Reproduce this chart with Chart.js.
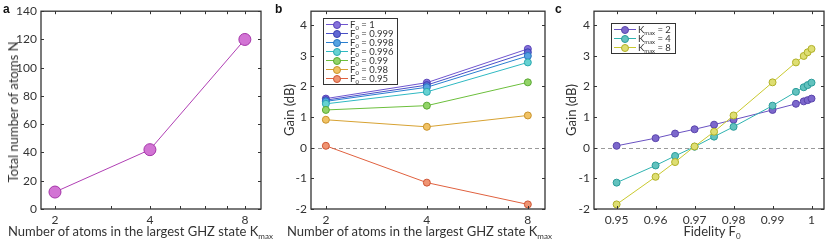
<!DOCTYPE html>
<html><head><meta charset="utf-8">
<script src="https://cdn.jsdelivr.net/npm/chart.js@4.4.1/dist/chart.umd.min.js"></script>
<style>
body{margin:0;background:#fff;width:831px;height:243px;overflow:hidden;position:relative;font-family:Lato,'Open Sans',sans-serif;color:#333;}
.panel{position:absolute;top:0;}
canvas{display:block}
.lbl{position:absolute;font:bold 12px 'Liberation Sans',Arial,sans-serif;color:#111;line-height:12px}
.xt{position:absolute;font-size:13px;line-height:16px;white-space:nowrap;}
.yt{position:absolute;font-size:13px;line-height:16px;white-space:nowrap;transform:translate(-50%,-50%) rotate(-90deg);}
sub{font-size:62%;vertical-align:-0.4em;line-height:0}
.legend{position:absolute;border:1px solid #333;background:#fff;padding:1px 4px 1px 2px;font-size:9.5px;line-height:9px}
.row{display:flex;align-items:center;height:9px;white-space:nowrap}
.sw{position:relative;width:22px;height:9px;margin-right:2px;flex:none}
.sw .ln{position:absolute;left:0;right:0;top:4px;height:0;border-top:1px solid}
.sw .dot{position:absolute;left:7px;top:1px;width:6px;height:6px;border-radius:50%;border:1px solid;box-sizing:content-box}
</style></head>
<body>
<div class="panel" style="left:0"><canvas id="ca" width="275" height="243"></canvas></div>
<div class="panel" style="left:278px"><canvas id="cb" width="275" height="243"></canvas></div>
<div class="panel" style="left:555px"><canvas id="cc" width="276" height="243"></canvas></div>

<div class="lbl" style="left:3px;top:3px">a</div>
<div class="lbl" style="left:275px;top:3px">b</div>
<div class="lbl" style="left:555px;top:3px">c</div>

<div class="yt" style="left:13px;top:112px">Total number of atoms N</div>
<div class="xt" style="left:8px;top:223px">Number of atoms in the largest GHZ state K<sub>max</sub></div>
<div class="yt" style="left:289px;top:110px">Gain (dB)</div>
<div class="xt" style="left:287px;top:223px">Number of atoms in the largest GHZ state K<sub>max</sub></div>
<div class="yt" style="left:571px;top:110px">Gain (dB)</div>
<div class="xt" style="left:712px;top:223px;transform:translateX(-50%)">Fidelity F<sub>0</sub></div>

<div class="legend" id="legb" style="left:323px;top:18px"></div>
<div class="legend" id="legc" style="left:611px;top:23px"></div>

<script>
// ---- data ----
const kmax = [2, 4, 8];
const kmaxTickValues = [2, 3, 4, 5, 6, 7, 8];
const kmaxTickLabels = ['2', '', '4', '', '', '', '8'];
const totalAtoms = [12, 42, 120];
const atomTicks = [0, 20, 40, 60, 80, 100, 120, 140];

const fidelityC = [0.95, 0.96, 0.965, 0.97, 0.975, 0.98, 0.99, 0.996, 0.998, 0.999, 1];
const gainK2 = [0.06, 0.31, 0.46, 0.60, 0.75, 0.91, 1.23, 1.43, 1.51, 1.55, 1.60];
const gainK4 = [-1.14, -0.58, -0.27, 0.03, 0.36, 0.68, 1.37, 1.82, 1.97, 2.04, 2.12];
const gainK8 = [-1.85, -0.95, -0.47, 0.04, 0.52, 1.05, 2.13, 2.78, 2.99, 3.11, 3.22];
const fidelityTickValues = [0.95, 0.96, 0.97, 0.98, 0.99, 1];
const fidelityTickLabels = ['0.95', '0.96', '0.97', '0.98', '0.99', '1'];
const gainTicks = [-2, -1, 0, 1, 2, 3, 4];

const fidelitiesB = [1, 0.999, 0.998, 0.996, 0.99, 0.98, 0.95];
const fidelityLabelsB = ['1', '0.999', '0.998', '0.996', '0.99', '0.98', '0.95'];

// ---- styles ----
const colorsB = [
  {line:'#6f55cf', fill:'#8672dc', edge:'#5a44b8'},
  {line:'#4a50c8', fill:'#6068d4', edge:'#3a40b0'},
  {line:'#2a7fd0', fill:'#55a3e2', edge:'#2a75c0'},
  {line:'#2fb9c2', fill:'#66d2d2', edge:'#2aa8b0'},
  {line:'#6cbf3c', fill:'#92d467', edge:'#5aa832'},
  {line:'#d7a232', fill:'#f1c264', edge:'#c8922a'},
  {line:'#e0613f', fill:'#ef9472', edge:'#cf5535'}
];
const colorsC = [
  {line:'#6a52c2', fill:'#7c68cc', edge:'#5a44ac'},
  {line:'#2fb3b0', fill:'#62c2be', edge:'#2a9c9a'},
  {line:'#c9c92e', fill:'#dede72', edge:'#b0b028'}
];
const FONT = "Lato, 'Open Sans', sans-serif";
const TXT = '#333';

const boxPlugin = {
  id: 'box',
  beforeDatasetsDraw(chart, args, opts) {
    if (!opts.zero) return;
    const {ctx, chartArea: a, scales: {y}} = chart;
    const py = Math.round(y.getPixelForValue(0)) + 0.5;
    ctx.save();
    ctx.strokeStyle = '#9a9a9a'; ctx.lineWidth = 1; ctx.setLineDash([4, 3]);
    ctx.beginPath(); ctx.moveTo(a.left, py); ctx.lineTo(a.right, py); ctx.stroke();
    ctx.restore();
  },
  afterDraw(chart) {
    const {ctx, chartArea: a, scales: {x, y}} = chart;
    ctx.save();
    ctx.strokeStyle = '#333'; ctx.lineWidth = 1.3;
    ctx.strokeRect(a.left, a.top, a.right - a.left, a.bottom - a.top);
    ctx.lineWidth = 1;
    ctx.beginPath();
    x.ticks.forEach(t => {
      const px = Math.round(x.getPixelForValue(t.value)) + 0.5;
      ctx.moveTo(px, a.bottom); ctx.lineTo(px, a.bottom - 3);
      ctx.moveTo(px, a.top); ctx.lineTo(px, a.top + 3);
    });
    y.ticks.forEach(t => {
      const py = Math.round(y.getPixelForValue(t.value)) + 0.5;
      ctx.moveTo(a.left, py); ctx.lineTo(a.left + 3, py);
      ctx.moveTo(a.right, py); ctx.lineTo(a.right - 3, py);
    });
    ctx.stroke();
    ctx.restore();
  }
};

function makeOpts(o) {
  return {
    responsive: false, animation: false, devicePixelRatio: 1,
    layout: {padding: {top: 11, right: o.padR, left: 0, bottom: 0}},
    plugins: {legend: {display: false}, tooltip: {enabled: false}, box: {zero: o.zero}},
    scales: {
      x: {
        type: o.xType, min: o.xMin, max: o.xMax,
        grid: {display: false, drawTicks: false}, border: {display: false},
        afterBuildTicks: s => { s.ticks = o.xTicks.map(v => ({value: v})); },
        afterFit: s => { s.height = o.xH; },
        ticks: {
          autoSkip: false, maxRotation: 0, padding: 4, color: TXT,
          font: {family: FONT, size: 12},
          callback: (v) => { const i = o.xTicks.indexOf(v); return i >= 0 ? o.xLabels[i] : ''; }
        }
      },
      y: {
        type: 'linear', min: o.yMin, max: o.yMax,
        grid: {display: false, drawTicks: false}, border: {display: false},
        afterBuildTicks: s => { s.ticks = o.yTicks.map(v => ({value: v})); },
        afterFit: s => { s.width = o.yW; },
        ticks: {
          autoSkip: false, padding: 4, color: TXT,
          font: {family: FONT, size: 12},
          callback: v => String(v)
        }
      }
    }
  };
}

// Panel a
new Chart(document.getElementById('ca'), {
  type: 'line',
  data: {datasets: [{
    data: kmax.map((k, i) => ({x: k, y: totalAtoms[i]})),
    borderColor: '#b03fb4', borderWidth: 1,
    pointRadius: 6, pointBackgroundColor: '#d274d4', pointBorderColor: '#a434a8', pointBorderWidth: 1
  }]},
  options: makeOpts({xType: 'logarithmic', xMin: 1.806, xMax: 9, xTicks: kmaxTickValues, xLabels: kmaxTickLabels,
    yMin: 0, yMax: 140, yTicks: atomTicks, yW: 41, xH: 34, padR: 14, zero: false}),
  plugins: [boxPlugin]
});

// Panel b
const gainAt = (arr, f) => arr[fidelityC.indexOf(f)];
const dsB = fidelitiesB.map((f, i) => ({
  label: 'F0 = ' + fidelityLabelsB[i],
  data: kmax.map((k, j) => ({x: k, y: gainAt([gainK2, gainK4, gainK8][j], f)})),
  borderColor: colorsB[i].line, borderWidth: 1,
  pointRadius: 3.5, pointBackgroundColor: colorsB[i].fill, pointBorderColor: colorsB[i].edge, pointBorderWidth: 1
}));
new Chart(document.getElementById('cb'), {
  type: 'line',
  data: {datasets: dsB.slice().reverse()},
  options: makeOpts({xType: 'logarithmic', xMin: 1.806, xMax: 9, xTicks: kmaxTickValues, xLabels: kmaxTickLabels,
    yMin: -2, yMax: 4.45, yTicks: gainTicks, yW: 33, xH: 34, padR: 8, zero: true}),
  plugins: [boxPlugin]
});

// Panel c
const seriesC = [gainK2, gainK4, gainK8];
const kLabelsC = ['2', '4', '8'];
const dsC = seriesC.map((g, i) => ({
  label: 'Kmax = ' + kLabelsC[i],
  data: fidelityC.map((f, j) => ({x: f, y: g[j]})),
  borderColor: colorsC[i].line, borderWidth: 1,
  pointRadius: 3.5, pointBackgroundColor: colorsC[i].fill, pointBorderColor: colorsC[i].edge, pointBorderWidth: 1
}));
new Chart(document.getElementById('cc'), {
  type: 'line',
  data: {datasets: dsC.slice().reverse()},
  options: makeOpts({xType: 'linear', xMin: 0.9442, xMax: 1.0032, xTicks: fidelityTickValues, xLabels: fidelityTickLabels,
    yMin: -2, yMax: 4.45, yTicks: gainTicks, yW: 39, xH: 34, padR: 7, zero: true}),
  plugins: [boxPlugin]
});

// HTML legends (for subscripts)
function row(c, html) {
  return '<div class="row"><span class="sw"><span class="ln" style="border-color:' + c.line + '"></span>' +
    '<span class="dot" style="background:' + c.fill + ';border-color:' + c.edge + '"></span></span><span>' + html + '</span></div>';
}
document.getElementById('legb').innerHTML = fidelityLabelsB.map((l, i) => row(colorsB[i], 'F<sub>0</sub> = ' + l)).join('');
document.getElementById('legc').innerHTML = kLabelsC.map((l, i) => row(colorsC[i], 'K<sub>max</sub> = ' + l)).join('');
</script>
</body></html>
